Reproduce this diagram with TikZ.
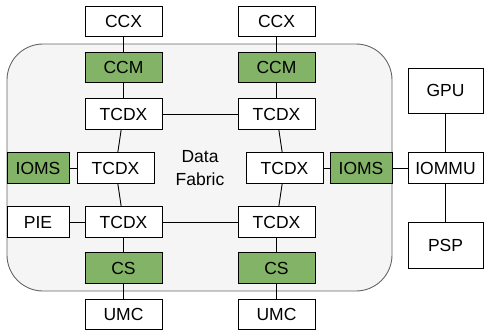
\documentclass[tikz,border=0pt]{standalone}
\usepackage{fontspec}
\setmainfont{Liberation Sans}
\definecolor{boxgreen}{HTML}{82B366}
\definecolor{fabricfill}{HTML}{F5F5F5}
\definecolor{fabricline}{HTML}{666666}
\begin{document}
\begin{tikzpicture}[x=1bp,y=-1bp,
  blk/.style={draw=black,line width=0.9bp,fill=white,minimum width=77bp,minimum height=30.5bp,inner sep=0pt,font=\fontsize{17.5bp}{21bp}\selectfont},
  grn/.style={blk,fill=boxgreen},
  narrow/.style={minimum width=62bp},
  link/.style={draw=black,line width=0.9bp}]
\useasboundingbox (0,0) rectangle (484,332);
\node[draw=fabricline,fill=fabricfill,line width=0.9bp,rounded corners=36bp,minimum width=385bp,minimum height=247bp,inner sep=0pt] (fabric) at (199.5,167.5) {};
\node[align=center,font=\fontsize{17.5bp}{23bp}\selectfont] (label) at (200,168) {Data\\Fabric};
% left column
\node[blk] (ccxa) at (123.5,21.5) {CCX};
\node[grn] (ccma) at (123.5,67.5) {CCM};
\node[blk] (ta1) at (123.5,114) {TCDX};
\node[blk] (ta2) at (115.5,168) {TCDX};
\node[grn,narrow] (iomsl) at (38,168) {IOMS};
\node[blk,narrow] (pie) at (38,222) {PIE};
\node[blk] (ta3) at (123.5,222) {TCDX};
\node[grn] (csa) at (123.5,268) {CS};
\node[blk] (umca) at (123.5,314.5) {UMC};
% right column
\node[blk] (ccxb) at (276.5,21.5) {CCX};
\node[grn] (ccmb) at (276.5,67.5) {CCM};
\node[blk] (tb1) at (276.5,114) {TCDX};
\node[blk] (tb2) at (284.5,168) {TCDX};
\node[grn,narrow] (iomsr) at (361,168) {IOMS};
\node[blk] (tb3) at (276.5,222) {TCDX};
\node[grn] (csb) at (276.5,268) {CS};
\node[blk] (umcb) at (276.5,314.5) {UMC};
% outside
\node[blk,minimum width=75bp,minimum height=45bp] (gpu) at (445.5,90.5) {GPU};
\node[blk,minimum width=75bp] (iommu) at (445.5,168) {IOMMU};
\node[blk,minimum width=75bp,minimum height=46bp] (psp) at (445.5,245) {PSP};
% links
\path[link] (ccxa) -- (ccma);
\path[link] (ccma) -- (ta1);
\path[link] (ta1) -- (tb1);
\path[link] (ta1) -- (ta2);
\path[link] (iomsl) -- (ta2);
\path[link] (ta2) -- (ta3);
\path[link] (pie) -- (ta3);
\path[link] (ta3) -- (tb3);
\path[link] (ta3) -- (csa);
\path[link] (csa) -- (umca);
\path[link] (ccxb) -- (ccmb);
\path[link] (ccmb) -- (tb1);
\path[link] (tb1) -- (tb2);
\path[link] (tb2) -- (iomsr);
\path[link] (tb2) -- (tb3);
\path[link] (tb3) -- (csb);
\path[link] (csb) -- (umcb);
\path[link] (iomsr) -- (iommu);
\path[link] (gpu) -- (iommu);
\path[link] (iommu) -- (psp);
\end{tikzpicture}
\end{document}
